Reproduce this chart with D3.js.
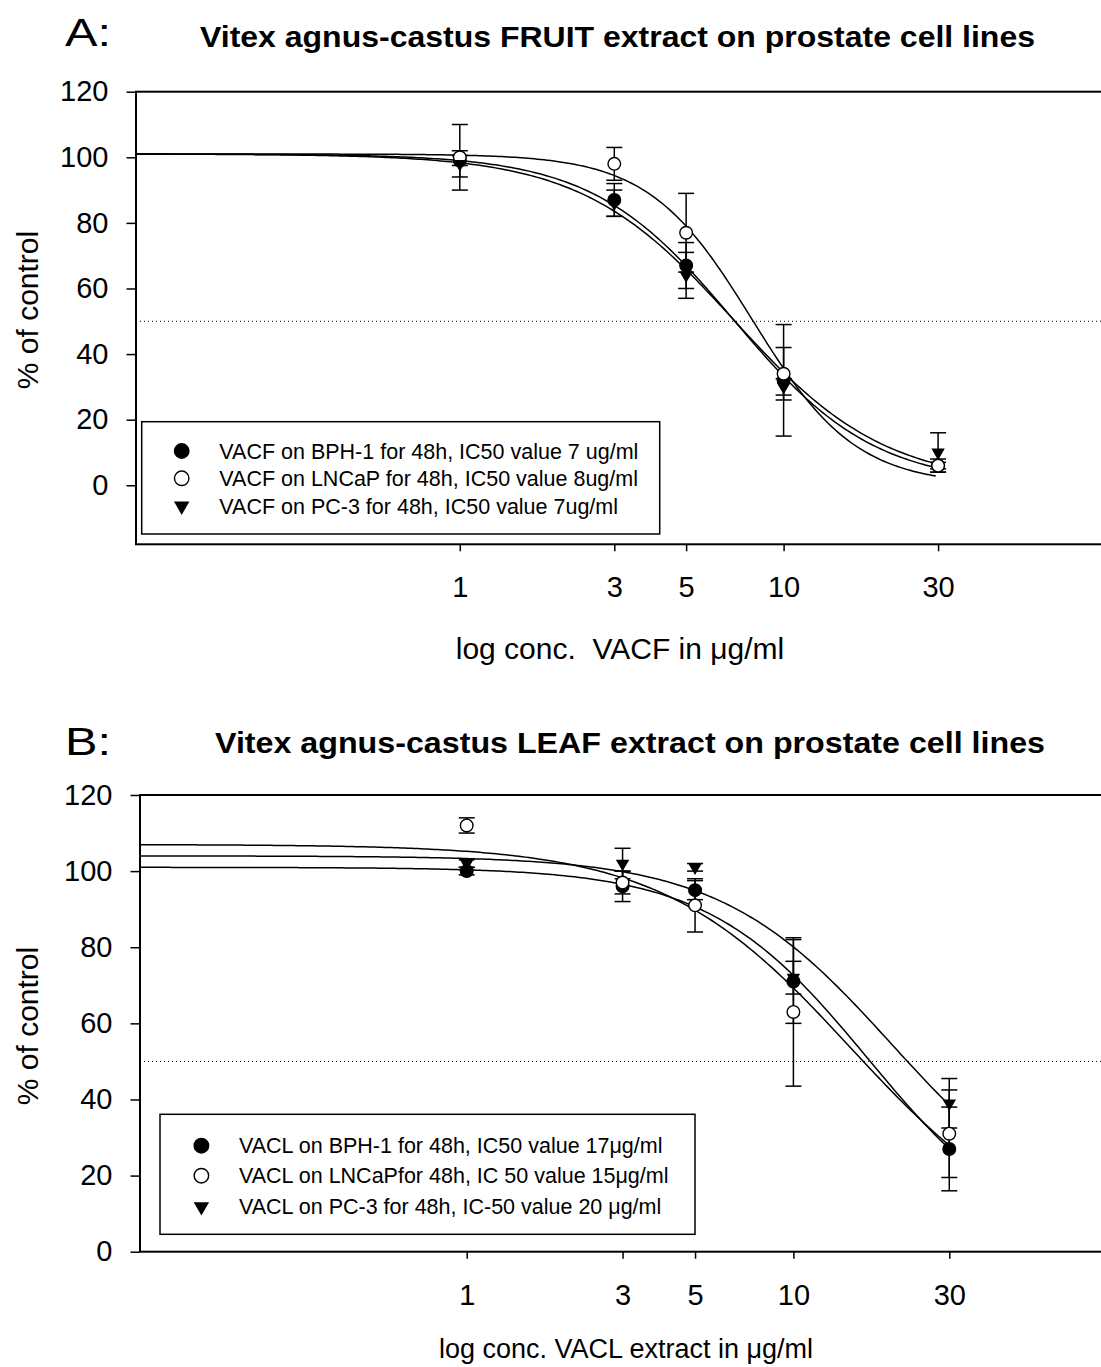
<!DOCTYPE html>
<html>
<head>
<meta charset="utf-8">
<script src="https://cdn.jsdelivr.net/npm/d3@7"></script>
<style>
  body { margin: 0; background: #fff; }
  text { font-family: "Liberation Sans", Arial, Helvetica, sans-serif; fill: #000; }
</style>
</head>
<body>
<svg id="fig" width="1101" height="1367"></svg>
<script>
// ---------- data ----------
const concentrations = [1, 3, 5, 10, 30];          // µg/ml
const xTickValues = [1, 3, 5, 10, 30];
const yTickValues = [0, 20, 40, 60, 80, 100, 120];
const seriesNames = ["BPH-1", "LNCaP", "PC-3"];

// A: fruit extract (VACF), % of control (mean, error)
const fruitBPH1 = [99, 87, 67, 32, 6];
const fruitBPH1Err = [1.5, 5, 7, 17, 1];
const fruitLNCaP = [100, 98, 77, 34, 6];
const fruitLNCaPErr = [10, 5, 12, 8, 2];
const fruitPC3 = [98, 86, 64, 30, 10];
const fruitPC3Err = [4, 4, 7, 2.5, 6];
// fitted four-parameter logistic: [top, bottom, IC50, Hill slope]
const fruitFitBPH1 = [101, 0, 7, 2.0];
const fruitFitLNCaP = [101, 0, 8, 2.72];
const fruitFitPC3 = [101, 0, 7, 1.85];
const fruitLegend = [
  "VACF on BPH-1 for 48h, IC50 value 7 ug/ml",
  "VACF on LNCaP for 48h, IC50 value 8ug/ml",
  "VACF on PC-3 for 48h, IC50 value 7ug/ml"
];

// B: leaf extract (VACL)
const leafBPH1 = [100, 96, 95, 71, 27];
const leafBPH1Err = [1, 4, 2.5, 11, 11];
const leafLNCaP = [112, 97, 91, 63, 31];
const leafLNCaPErr = [2, 3, 7, 19.5, 11.5];
const leafPC3 = [102, 102, 101, 72, 39];
const leafPC3Err = [1, 4, 1, 4.3, 6.5];
const leafFitBPH1 = [101, 0, 17, 1.77];
const leafFitLNCaP = [107, 0, 15, 1.5];
const leafFitPC3 = [104, 5, 20, 1.65];
const leafLegend = [
  "VACL on BPH-1 for 48h, IC50 value 17\u03bcg/ml",
  "VACL on LNCaPfor 48h, IC 50 value 15\u03bcg/ml",
  "VACL on PC-3 for 48h, IC-50 value 20 \u03bcg/ml"
];

// ---------- layout ----------
const panels = [
  {
    letter: "A:", title: "Vitex agnus-castus FRUIT extract on prostate cell lines",
    letterY: 46, titleX: 200, titleW: 835, titleY: 47,
    xRange: [136, 1107.4], yRange: [544.3, 91.7], yDomain: [-18, 120],
    xLabel: "log conc.  VACF in \u03bcg/ml", xLabelY: 659, xLabelX: 620, xLabelSize: 30,
    tickPadX: 25, yTitleY: 310,
    legend: { x: 141.7, y: 421.7, w: 518, h: 112.3, mx: 181.7, tx: 219.3, rows: [451, 478.3, 506] },
    series: [
      { values: fruitBPH1, err: fruitBPH1Err, fit: fruitFitBPH1, marker: "filled", label: fruitLegend[0] },
      { values: fruitLNCaP, err: fruitLNCaPErr, fit: fruitFitLNCaP, marker: "open", label: fruitLegend[1] },
      { values: fruitPC3, err: fruitPC3Err, fit: fruitFitPC3, marker: "triangle", label: fruitLegend[2] }
    ]
  },
  {
    letter: "B:", title: "Vitex agnus-castus LEAF extract on prostate cell lines",
    letterY: 755, titleX: 215, titleW: 830, titleY: 753,
    xRange: [140, 1120.1], yRange: [1251.7, 795], yDomain: [0, 120],
    xLabel: "log conc. VACL extract in \u03bcg/ml", xLabelY: 1358, xLabelX: 626, xLabelSize: 27,
    tickPadX: 26, yTitleY: 1026,
    legend: { x: 160, y: 1114.3, w: 535, h: 120, mx: 201.4, tx: 239, rows: [1145.7, 1175.7, 1206.7] },
    series: [
      { values: leafBPH1, err: leafBPH1Err, fit: leafFitBPH1, marker: "filled", label: leafLegend[0] },
      { values: leafLNCaP, err: leafLNCaPErr, fit: leafFitLNCaP, marker: "open", label: leafLegend[1] },
      { values: leafPC3, err: leafPC3Err, fit: leafFitPC3, marker: "triangle", label: leafLegend[2] }
    ]
  }
];

const svg = d3.select("#fig");

function logistic(p, c) {
  const [top, bottom, ic50, hill] = p;
  return bottom + (top - bottom) / (1 + Math.pow(c / ic50, hill));
}

function drawMarker(g, kind, cx, cy, k = 1) {
  if (kind === "triangle") {
    g.append("path")
      .attr("d", d3.symbol(d3.symbolTriangle, 78 * k * k)())
      .attr("transform", `translate(${cx},${cy}) rotate(180)`)
      .attr("fill", "#000");
  } else {
    g.append("circle")
      .attr("cx", cx).attr("cy", cy).attr("r", 6.3 * k)
      .attr("fill", kind === "filled" ? "#000" : "#fff")
      .attr("stroke", "#000").attr("stroke-width", 1.4);
  }
}

panels.forEach(p => {
  const x = d3.scaleLog().domain([0.1, 100]).range(p.xRange);
  const y = d3.scaleLinear().domain(p.yDomain).range(p.yRange);
  const g = svg.append("g");
  const [x0, x1] = p.xRange;

  // panel letter and title
  g.append("text").attr("x", 65).attr("y", p.letterY)
    .attr("font-size", 38).attr("textLength", 46).attr("lengthAdjust", "spacingAndGlyphs")
    .text(p.letter);
  g.append("text").attr("x", p.titleX).attr("y", p.titleY)
    .attr("font-size", 30).attr("font-weight", "bold")
    .attr("textLength", p.titleW).attr("lengthAdjust", "spacingAndGlyphs")
    .text(p.title);

  // 50 % reference line
  g.append("line")
    .attr("x1", x0).attr("x2", x1).attr("y1", y(50)).attr("y2", y(50))
    .attr("stroke", "#000").attr("stroke-width", 1).attr("stroke-dasharray", "1,3");

  // axes
  const yAxis = d3.axisLeft(y).tickValues(yTickValues).tickSize(9.5).tickSizeOuter(0).tickPadding(18);
  const yG = g.append("g").attr("transform", `translate(${x0},0)`).call(yAxis);
  const xAxis = d3.axisBottom(x).tickValues(xTickValues).tickFormat(d3.format("d"))
    .tickSize(7).tickSizeOuter(0).tickPadding(p.tickPadX);
  const xG = g.append("g").attr("transform", `translate(0,${p.yRange[0]})`).call(xAxis);
  [yG, xG].forEach(a => {
    a.select(".domain").remove();
    a.selectAll(".tick line").attr("stroke", "#000").attr("stroke-width", 1.5);
    a.selectAll(".tick text").attr("font-size", 29).attr("font-family", null);
  });

  // frame
  g.append("rect")
    .attr("x", x0).attr("y", p.yRange[1])
    .attr("width", x1 - x0).attr("height", p.yRange[0] - p.yRange[1])
    .attr("fill", "none").attr("stroke", "#000").attr("stroke-width", 2);

  // axis titles
  g.append("text")
    .attr("transform", `translate(38,${p.yTitleY}) rotate(-90)`)
    .attr("text-anchor", "middle").attr("font-size", 30)
    .text("% of control");
  g.append("text")
    .attr("x", p.xLabelX).attr("y", p.xLabelY)
    .attr("text-anchor", "middle").attr("font-size", p.xLabelSize)
    .style("white-space", "pre")
    .text(p.xLabel);

  // fitted curves
  const line = d3.line().x(d => x(d[0])).y(d => y(d[1]));
  p.series.forEach(s => {
    const pts = d3.ticks(-1, Math.log10(30), 240).map(t => {
      const c = Math.pow(10, t);
      return [c, logistic(s.fit, c)];
    });
    g.append("path").datum(pts).attr("d", line)
      .attr("fill", "none").attr("stroke", "#000").attr("stroke-width", 1.5);
  });

  // error bars
  p.series.forEach(s => {
    concentrations.forEach((c, i) => {
      const cx = x(c), v = s.values[i], e = s.err[i];
      const eb = g.append("g").attr("stroke", "#000").attr("stroke-width", 1.5);
      eb.append("line").attr("x1", cx).attr("x2", cx).attr("y1", y(v - e)).attr("y2", y(v + e));
      [v - e, v + e].forEach(t =>
        eb.append("line").attr("x1", cx - 8).attr("x2", cx + 8).attr("y1", y(t)).attr("y2", y(t)));
    });
  });

  // data markers
  p.series.forEach(s => {
    concentrations.forEach((c, i) => drawMarker(g, s.marker, x(c), y(s.values[i])));
  });

  // legend
  const L = p.legend;
  g.append("rect").attr("x", L.x).attr("y", L.y).attr("width", L.w).attr("height", L.h)
    .attr("fill", "#fff").attr("stroke", "#000").attr("stroke-width", 1.5);
  p.series.forEach((s, i) => {
    drawMarker(g, s.marker, L.mx, L.rows[i], 1.15);
    g.append("text").attr("x", L.tx).attr("y", L.rows[i]).attr("dy", "0.36em")
      .attr("font-size", 21.5).text(s.label);
  });
});
</script>
</body>
</html>
